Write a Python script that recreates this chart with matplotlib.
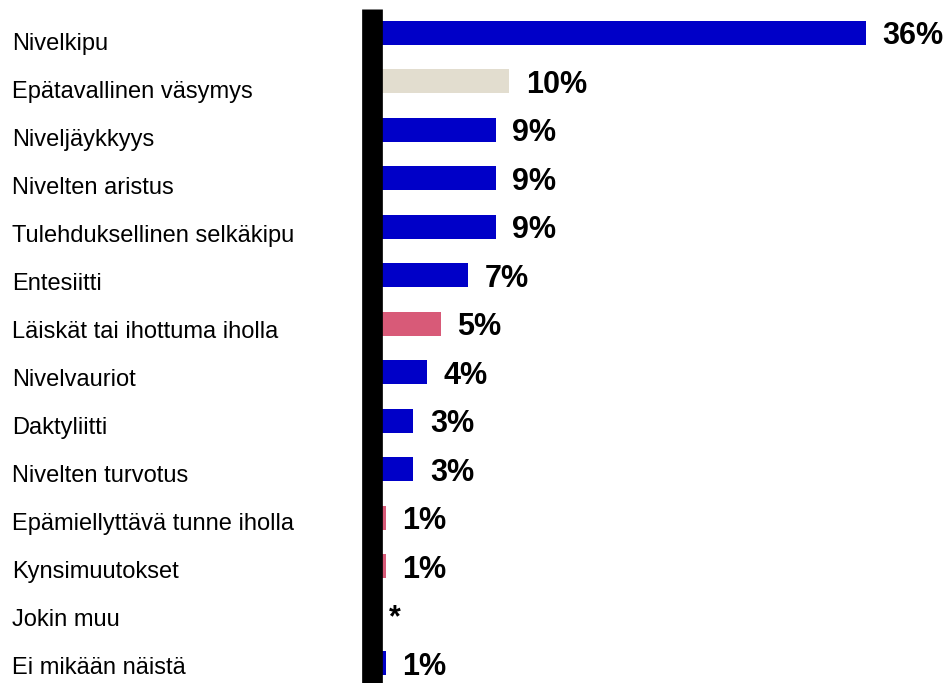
import matplotlib
matplotlib.use("Agg")
import matplotlib.pyplot as plt
from matplotlib.transforms import blended_transform_factory

categories = [
    "Nivelkipu",
    "Epätavallinen väsymys",
    "Niveljäykkyys",
    "Nivelten aristus",
    "Tulehduksellinen selkäkipu",
    "Entesiitti",
    "Läiskät tai ihottuma iholla",
    "Nivelvauriot",
    "Daktyliitti",
    "Nivelten turvotus",
    "Epämiellyttävä tunne iholla",
    "Kynsimuutokset",
    "Jokin muu",
    "Ei mikään näistä",
]
values = [36, 10, 9, 9, 9, 7, 5, 4, 3, 3, 1, 1, 0, 1]
value_labels = ["36%", "10%", "9%", "9%", "9%", "7%", "5%", "4%", "3%", "3%",
                "1%", "1%", "*", "1%"]
groups = ["joint", "fatigue", "joint", "joint", "joint", "joint", "skin",
          "joint", "joint", "joint", "skin", "skin", "joint", "joint"]

palette = {"joint": "#0000C8", "fatigue": "#E2DDCF", "skin": "#D85A78"}

W, H = 949, 683
fig = plt.figure(figsize=(W / 100, H / 100), dpi=100)
plt.rcParams["font.family"] = ["Liberation Sans", "DejaVu Sans"]

x0_px = 372.3
px_per_unit = 13.71
row_px = 48.5
first_row_px = 32.8
n = len(categories)
xmax = 40
top_px = first_row_px - row_px / 2
bottom_px = first_row_px + (n - 0.5) * row_px

ax = fig.add_axes([x0_px / W, (H - bottom_px) / H,
                   xmax * px_per_unit / W, (bottom_px - top_px) / H])
ypos = list(range(n))
ax.barh(ypos, values, height=0.5,
        color=[palette[g] for g in groups], zorder=1)
ax.set_xlim(0, xmax)
ax.set_ylim(n - 0.5, -0.5)

for s in ["top", "right", "bottom"]:
    ax.spines[s].set_visible(False)
ax.spines["left"].set_linewidth(20.7 * 72 / 100)
ax.spines["left"].set_color("black")
ax.spines["left"].set_capstyle("butt")
ax.set_xticks([])
ax.set_yticks([])

for y, v, lab in zip(ypos, values, value_labels):
    ax.annotate(lab, xy=(v, y), xytext=(16.5, 0), textcoords="offset pixels",
                ha="left", va="center_baseline", fontsize=22,
                fontweight="bold", color="black", annotation_clip=False)

# category labels (slightly different row pitch than bars in the reference)
trans = blended_transform_factory(fig.transFigure, ax.transData)
lab_first_px = 41.0
lab_pitch_px = 48.04
for i, c in enumerate(categories):
    ydata = (lab_first_px + i * lab_pitch_px - first_row_px) / row_px
    ax.text(12 / W, ydata, c, transform=trans, ha="left",
            va="center_baseline", fontsize=17, color="black", clip_on=False)

fig.savefig("out.png", dpi=100)
